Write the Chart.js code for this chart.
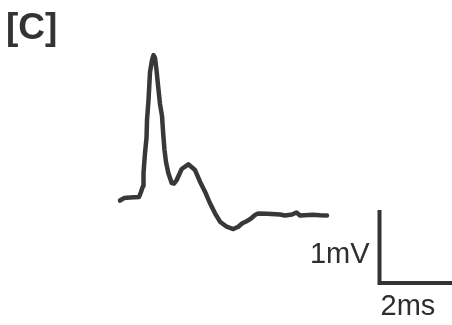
<!DOCTYPE html>
<html>
<head>
<meta charset="utf-8">
<script src="https://cdn.jsdelivr.net/npm/chart.js@4/dist/chart.umd.min.js"></script>
<style>
  html, body { margin: 0; padding: 0; background: #ffffff; }
  #wrap { width: 452px; height: 325px; }
</style>
</head>
<body>
<div id="wrap"><canvas id="c" width="452" height="325"></canvas></div>
<script>
// Recorded waveform: time (ms) and potential (mV)
const timeMs = [
  0, 0.110, 0.274, 0.521, 0.575, 0.630, 0.644, 0.685, 0.726, 0.740,
  0.781, 0.822, 0.877, 0.918, 0.959, 1.000, 1.041, 1.096, 1.151, 1.186,
  1.219, 1.260, 1.323, 1.416, 1.479, 1.553, 1.690, 1.871, 2.055, 2.192,
  2.329, 2.466, 2.603, 2.740, 2.923, 3.104, 3.241, 3.342, 3.452, 3.589,
  3.699, 3.781, 4.027, 4.384, 4.521, 4.712, 4.836, 4.932, 5.288, 5.479,
  5.671
];
const voltageMv = [
  -0.007, 0.027, 0.034, 0.041, 0.110, 0.192, 0.370, 0.644, 0.849, 1.096,
  1.370, 1.753, 1.918, 1.986, 1.945, 1.781, 1.575, 1.315, 1.151, 0.890,
  0.685, 0.521, 0.370, 0.233, 0.226, 0.274, 0.425, 0.489, 0.411, 0.251,
  0.114, -0.045, -0.182, -0.297, -0.366, -0.397, -0.366, -0.322, -0.295, -0.253,
  -0.205, -0.185, -0.189, -0.199, -0.212, -0.199, -0.171, -0.212, -0.203, -0.210,
  -0.212
];

// Calibration bar: corner position (ms, mV) and lengths
const scaleBarCorner = [7.11, -1.137];
const scaleBarTimeMs = 2;
const scaleBarVoltMv = 1;
const scaleBarLabels = ['1mV', '2ms'];
const panelLabel = '[C]';

const points = timeMs.map((t, i) => ({ x: t, y: voltageMv[i] }));

const ink = '#383838';

const decorations = {
  id: 'decorations',
  afterDraw(chart) {
    const { ctx, scales: { x, y } } = chart;
    const x0 = x.getPixelForValue(scaleBarCorner[0]);
    const y0 = y.getPixelForValue(scaleBarCorner[1]);
    const x1 = x.getPixelForValue(scaleBarCorner[0] + scaleBarTimeMs);
    const y1 = y.getPixelForValue(scaleBarCorner[1] + scaleBarVoltMv);
    ctx.save();
    ctx.strokeStyle = '#333333';
    ctx.lineWidth = 4;
    ctx.lineCap = 'butt';
    ctx.lineJoin = 'miter';
    ctx.beginPath();
    ctx.moveTo(x0, y1);
    ctx.lineTo(x0, y0);
    ctx.lineTo(x1, y0);
    ctx.stroke();

    ctx.fillStyle = '#2e2e2e';
    ctx.font = '29px "Liberation Sans", Arial, sans-serif';
    ctx.textBaseline = 'alphabetic';
    ctx.textAlign = 'right';
    ctx.fillText(scaleBarLabels[0], x0 - 10, y0 - 20);
    ctx.textAlign = 'left';
    ctx.fillText(scaleBarLabels[1], x0 + 1, y0 + 32);

    ctx.fillStyle = '#333333';
    ctx.font = 'bold 37px "Liberation Sans", Arial, sans-serif';
    ctx.textAlign = 'left';
    ctx.fillText(panelLabel, 6, 39);
    ctx.restore();
  }
};

new Chart(document.getElementById('c'), {
  type: 'line',
  data: {
    datasets: [{
      data: points,
      borderColor: ink,
      borderWidth: 4.5,
      borderCapStyle: 'round',
      borderJoinStyle: 'round',
      pointRadius: 0,
      tension: 0,
      fill: false
    }]
  },
  options: {
    responsive: false,
    animation: false,
    layout: { padding: 0 },
    plugins: { legend: { display: false }, tooltip: { enabled: false } },
    scales: {
      x: { type: 'linear', display: false, min: -3.288, max: 9.096 },
      y: { type: 'linear', display: false, min: -1.712, max: 2.740 }
    }
  },
  plugins: [decorations]
});
</script>
</body>
</html>
